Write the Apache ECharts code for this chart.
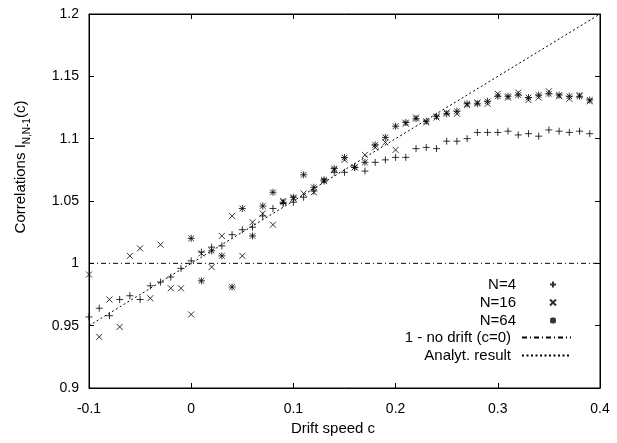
<!DOCTYPE html>
<html>
<head>
<meta charset="utf-8">
<title>Correlations vs drift speed</title>
<script src="https://cdn.jsdelivr.net/npm/echarts@6/dist/echarts.min.js"></script>
<style>
  html, body { margin: 0; padding: 0; background: #fff; }
  #chart { width: 617px; height: 443px; }
</style>
</head>
<body>
<div id="chart"></div>
<script type="text/javascript">

// drift speeds for N=4 and N=16
var cSmall = [-0.1, -0.09, -0.08, -0.07, -0.06, -0.05, -0.04, -0.03, -0.02, -0.01,
  0, 0.01, 0.02, 0.03, 0.04, 0.05, 0.06, 0.07, 0.08, 0.09,
  0.1, 0.11, 0.12, 0.13, 0.14, 0.15, 0.16, 0.17, 0.18, 0.19,
  0.2, 0.21, 0.22, 0.23, 0.24, 0.25, 0.26, 0.27, 0.28, 0.29,
  0.3, 0.31, 0.32, 0.33, 0.34, 0.35, 0.36, 0.37, 0.38, 0.39];
// drift speeds for N=64
var cLarge = [0, 0.01, 0.02, 0.03, 0.04, 0.05, 0.06, 0.07, 0.08, 0.09,
  0.1, 0.11, 0.12, 0.13, 0.14, 0.15, 0.16, 0.17, 0.18, 0.19,
  0.2, 0.21, 0.22, 0.23, 0.24, 0.25, 0.26, 0.27, 0.28, 0.29,
  0.3, 0.31, 0.32, 0.33, 0.34, 0.35, 0.36, 0.37, 0.38, 0.39];

var n4 = [0.957, 0.964, 0.958, 0.971, 0.974, 0.971, 0.982, 0.985, 0.989, 0.996,
  1.002, 1.009, 1.013, 1.014, 1.023, 1.027, 1.029, 1.038, 1.044, 1.048,
  1.049, 1.053, 1.058, 1.066, 1.073, 1.073, 1.077, 1.074, 1.081, 1.083,
  1.085, 1.085, 1.092, 1.093, 1.092, 1.098, 1.098, 1.100, 1.105, 1.105,
  1.105, 1.106, 1.103, 1.104, 1.102, 1.107, 1.106, 1.105, 1.106, 1.104];

var n16 = [0.991, 0.941, 0.971, 0.949, 1.006, 1.012, 0.972, 1.015, 0.980, 0.980,
  0.959, 1.008, 0.997, 1.022, 1.038, 1.006, 1.033, 1.040, 1.031, 1.050,
  1.052, 1.056, 1.057, 1.066, 1.075, 1.083, 1.077, 1.087, 1.093, 1.097,
  1.091, 1.112, 1.117, 1.113, 1.117, 1.121, 1.120, 1.127, 1.129, 1.128,
  1.136, 1.133, 1.137, 1.131, 1.133, 1.138, 1.134, 1.132, 1.135, 1.130];

var n64 = [1.020, 0.986, 1.010, 1.006, 0.981, 1.044, 1.022, 1.046, 1.057, 1.049,
  1.053, 1.071, 1.061, 1.067, 1.076, 1.085, 1.077, 1.081, 1.095, 1.101,
  1.110, 1.113, 1.116, 1.114, 1.118, 1.120, 1.122, 1.128, 1.128, 1.130,
  1.134, 1.134, 1.135, 1.133, 1.135, 1.136, 1.135, 1.134, 1.134, 1.131];

// reference lines (end points)
var noDriftC = [-0.1, 0.4];
var noDriftV = [1, 1];
var analytC = [-0.1, 0.4];
var analytV = [0.95, 1.2];

var names = ['N=4', 'N=16', 'N=64', '1 - no drift (c=0)', 'Analyt. result'];

function pairs(xs, ys) {
  var out = [];
  for (var i = 0; i < xs.length; i++) out.push([xs[i], ys[i]]);
  return out;
}

var FONT = 'Liberation Sans, Arial, Helvetica, sans-serif';
var plusPath = 'path://M0,5L10,5M5,0L5,10';
var crossPath = 'path://M0,0L10,10M10,0L0,10';
var starPath = 'path://M0,5L10,5M5,0L5,10M1,1L9,9M9,1L1,9';

var markStyle = { color: 'transparent', borderColor: '#000', borderWidth: 1 };

function mirrorAxis(pos, min, max, interval) {
  return {
    type: 'value', position: pos, min: min, max: max, interval: interval,
    axisLine: { show: true, onZero: false, lineStyle: { color: '#000', width: 1 } },
    axisTick: { show: true, inside: true, length: 5, lineStyle: { color: '#000' } },
    axisLabel: { show: false },
    splitLine: { show: false }
  };
}

// marker entries: small icon centred near x=553
function markLegend(name, top) {
  return {
    data: [name], orient: 'vertical', right: 55, top: top, align: 'right',
    itemWidth: 6, itemHeight: 6, selectedMode: false,
    textStyle: { fontFamily: FONT, fontSize: 15, color: '#000', padding: [0, 29, 0, 0] }
  };
}
// line entries: sample from x=528 to x=577
function lineLegend(name, top) {
  return {
    data: [name], orient: 'vertical', right: 40, top: top, align: 'right',
    itemWidth: 49, itemHeight: 8, selectedMode: false,
    itemStyle: { opacity: 0 },
    textStyle: { fontFamily: FONT, fontSize: 15, color: '#000', padding: [0, 6, 0, 0] }
  };
}

var chart = echarts.init(document.getElementById('chart'));

var option = {
  animation: false,
  backgroundColor: '#fff',
  grid: { left: 89, right: 17, top: 14, bottom: 55, show: true, borderColor: '#000', borderWidth: 1 },
  legend: [
    markLegend(names[0], 272),
    markLegend(names[1], 290),
    markLegend(names[2], 308),
    lineLegend(names[3], 325),
    lineLegend(names[4], 343)
  ],
  xAxis: [{
    type: 'value', position: 'bottom', min: -0.1, max: 0.4, interval: 0.1,
    axisLine: { show: true, onZero: false, lineStyle: { color: '#000', width: 1 } },
    axisTick: { show: true, inside: true, length: 5, lineStyle: { color: '#000' } },
    axisLabel: {
      color: '#000', fontFamily: FONT, fontSize: 14, margin: 14,
      formatter: function (v) { return String(parseFloat(v.toFixed(2))); }
    },
    splitLine: { show: false },
    name: 'Drift speed c', nameLocation: 'middle', nameGap: 28,
    nameTextStyle: { color: '#000', fontFamily: FONT, fontSize: 15, padding: [0, 23, 0, 0] }
  }, mirrorAxis('top', -0.1, 0.4, 0.1)],
  yAxis: [{
    type: 'value', position: 'left', min: 0.9, max: 1.2, interval: 0.05,
    axisLine: { show: true, onZero: false, lineStyle: { color: '#000', width: 1 } },
    axisTick: { show: true, inside: true, length: 5, lineStyle: { color: '#000' } },
    axisLabel: {
      color: '#000', fontFamily: FONT, fontSize: 14, margin: 10,
      formatter: function (v) { return String(parseFloat(v.toFixed(2))); }
    },
    splitLine: { show: false }
  }, mirrorAxis('right', 0.9, 1.2, 0.05)],
  graphic: [{
    type: 'text',
    x: 21, y: 167,
    rotation: Math.PI / 2,
    style: {
      text: '{a|Correlations I}{b|N,N-1}{a|(c)}',
      align: 'center',
      verticalAlign: 'middle',
      fill: '#000',
      rich: {
        a: { fontFamily: FONT, fontSize: 15, lineHeight: 22, verticalAlign: 'middle', fill: '#000' },
        b: { fontFamily: FONT, fontSize: 10, lineHeight: 10, verticalAlign: 'bottom', fill: '#000' }
      }
    }
  }],
  series: [{
    name: names[0], type: 'scatter', symbol: plusPath, symbolSize: 7,
    itemStyle: markStyle, data: pairs(cSmall, n4)
  }, {
    name: names[1], type: 'scatter', symbol: crossPath, symbolSize: 6,
    itemStyle: markStyle, data: pairs(cSmall, n16)
  }, {
    name: names[2], type: 'scatter', symbol: starPath, symbolSize: 7,
    itemStyle: markStyle, data: pairs(cLarge, n64)
  }, {
    name: names[3], type: 'line', symbol: 'none', showSymbol: false, silent: true,
    lineStyle: { color: '#000', width: 1, type: [5, 3, 1, 3] },
    itemStyle: { color: '#000' },
    data: pairs(noDriftC, noDriftV)
  }, {
    name: names[4], type: 'line', symbol: 'none', showSymbol: false, silent: true,
    lineStyle: { color: '#000', width: 1, type: [2, 2.5] },
    itemStyle: { color: '#000' },
    data: pairs(analytC, analytV)
  }]
};

chart.setOption(option);
</script>
</body>
</html>
